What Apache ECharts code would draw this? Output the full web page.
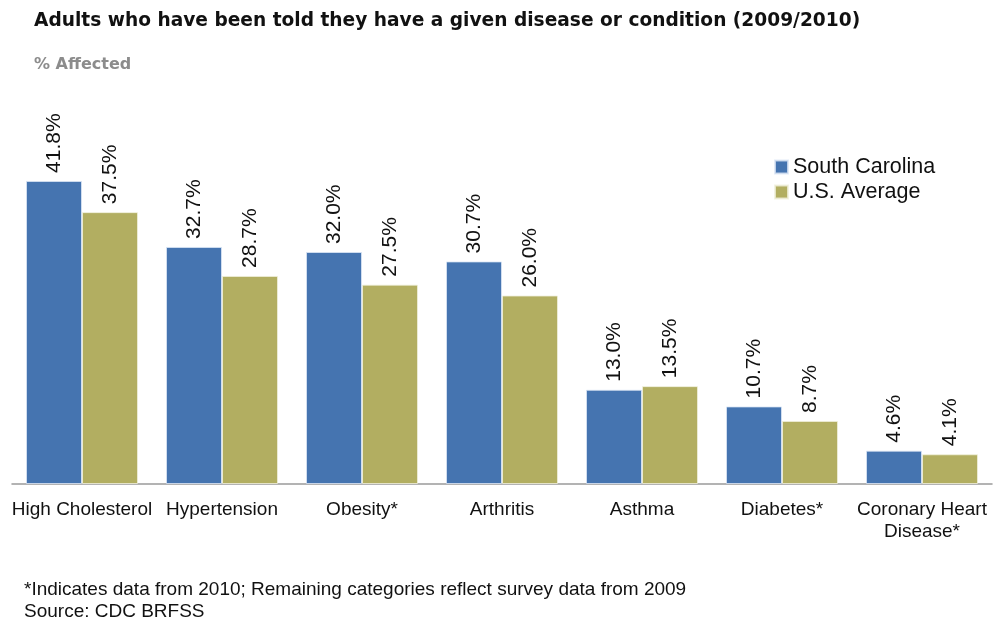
<!DOCTYPE html>
<html>
<head>
<meta charset="utf-8">
<script src="https://cdn.jsdelivr.net/npm/echarts@6/dist/echarts.min.js"></script>
<style>
  html, body { margin: 0; padding: 0; background: #ffffff; }
  #chart { width: 994px; height: 620px; }
</style>
</head>
<body>
<div id="chart"></div>
<script>
// Share of adults told they have each condition, South Carolina vs. U.S.
const categories = [
  'High Cholesterol', 'Hypertension', 'Obesity*', 'Arthritis',
  'Asthma', 'Diabetes*', 'Coronary Heart\nDisease*'
];
const southCarolina = [41.8, 32.7, 32.0, 30.7, 13.0, 10.7, 4.6];
const usAverage = [37.5, 28.7, 27.5, 26.0, 13.5, 8.7, 4.1];

const SC_COLOR = '#4574B0';
const US_COLOR = '#B2AE61';
const BODY_FONT = 'Liberation Sans, Arial, sans-serif';
const HEAD_FONT = 'DejaVu Sans, sans-serif';

const chart = echarts.init(document.getElementById('chart'));

const valueLabel = {
  show: true,
  position: 'top',
  rotate: 90,
  align: 'left',
  verticalAlign: 'middle',
  distance: 8,
  color: '#111',
  fontFamily: BODY_FONT,
  fontSize: 21,
  formatter: p => p.value.toFixed(1) + '%'
};

chart.setOption({
  animation: false,
  backgroundColor: '#ffffff',
  title: [
    {
      text: 'Adults who have been told they have a given disease or condition (2009/2010)',
      left: 29, top: 7,
      textStyle: { fontFamily: HEAD_FONT, fontWeight: 'bold', fontSize: 18.6, color: '#111' }
    },
    {
      text: '% Affected',
      left: 29, top: 52,
      textStyle: { fontFamily: HEAD_FONT, fontWeight: 'bold', fontSize: 16, color: '#8c8c8c' }
    },
    {
      text: '*Indicates data from 2010; Remaining categories reflect survey data from 2009\nSource: CDC BRFSS',
      left: 19, top: 574,
      textStyle: { fontFamily: BODY_FONT, fontWeight: 'normal', fontSize: 19, lineHeight: 22, color: '#111' }
    }
  ],
  legend: {
    orient: 'vertical',
    left: 769, top: 151,
    itemWidth: 13, itemHeight: 13,
    itemGap: 3,
    icon: 'rect',
    textStyle: { fontFamily: BODY_FONT, fontSize: 21.5, color: '#111', padding: [0, 0, 0, 0] },
    data: ['South Carolina', 'U.S. Average']
  },
  grid: { left: 12, right: 2, top: 121.5, bottom: 136, containLabel: false },
  xAxis: {
    type: 'category',
    data: categories,
    axisLine: { show: true, lineStyle: { color: '#9a9a9a', width: 1.5 } },
    axisTick: { show: false },
    axisLabel: {
      interval: 0,
      margin: 15,
      fontFamily: BODY_FONT,
      fontSize: 19,
      lineHeight: 22,
      color: '#111'
    }
  },
  yAxis: {
    type: 'value',
    min: 0, max: 50,
    show: false,
    splitLine: { show: false }
  },
  series: [
    {
      name: 'South Carolina',
      type: 'bar',
      data: southCarolina,
      barWidth: 56,
      barGap: '0%',
      itemStyle: { color: SC_COLOR, borderColor: 'rgba(220,230,245,0.8)', borderWidth: 1 },
      label: valueLabel
    },
    {
      name: 'U.S. Average',
      type: 'bar',
      data: usAverage,
      barWidth: 56,
      barGap: '0%',
      itemStyle: { color: US_COLOR, borderColor: 'rgba(240,240,220,0.8)', borderWidth: 1 },
      label: valueLabel
    }
  ]
});
</script>
</body>
</html>
